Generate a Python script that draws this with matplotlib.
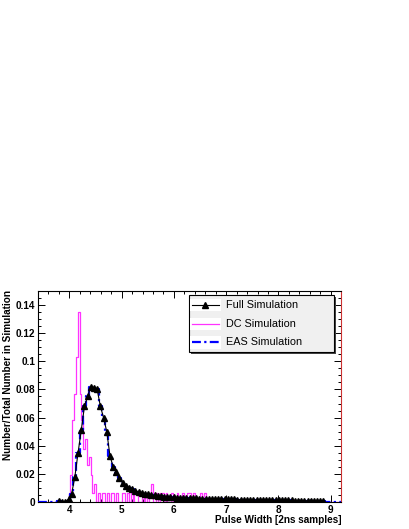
import matplotlib
matplotlib.use('Agg')
import numpy as np
import matplotlib.pyplot as plt
from matplotlib.patches import Rectangle
from matplotlib.lines import Line2D
from matplotlib.ticker import MultipleLocator, FuncFormatter

# full simulation: bin centres start at 3.80, width 0.061
full_start = 3.80
full_width = 0.061
full_vals = [
    0.0005, 0.0, 0.0003, 0.002, 0.006, 0.018, 0.035, 0.051, 0.068, 0.075,
    0.082, 0.081, 0.080, 0.068, 0.060, 0.050, 0.033, 0.025, 0.021, 0.017,
    0.0135, 0.0115, 0.0100, 0.0090, 0.0080, 0.0072, 0.0064, 0.0060, 0.0054, 0.0050,
    0.0047, 0.0044, 0.0041, 0.0039, 0.0037, 0.0034, 0.0033, 0.0031, 0.0030, 0.0029,
    0.0028, 0.0027, 0.0026, 0.0026, 0.0024, 0.0024, 0.0023, 0.0022, 0.0022, 0.0021,
    0.0020, 0.0020, 0.0019, 0.0019, 0.0018, 0.0018, 0.0017, 0.0017, 0.0016, 0.0016,
    0.0015, 0.0015, 0.0015, 0.0014, 0.0014, 0.0013, 0.0013, 0.0013, 0.0012, 0.0012,
    0.0012, 0.0011, 0.0011, 0.0011, 0.0010, 0.0010, 0.0010, 0.0010, 0.0009, 0.0009,
    0.0009, 0.0008, 0.0008, 0.0008,
]
# EAS simulation lies on top of the full simulation everywhere
eas_vals = list(full_vals)

# DC simulation: bins from 3.95, width 0.035
dc_start = 3.95
dc_width = 0.035
dc_vals = [
    0.0, 0.0064, 0.019, 0.058, 0.077, 0.103, 0.135, 0.077, 0.058, 0.038,
    0.045, 0.026, 0.032, 0.019, 0.0064, 0.013, 0.0, 0.0064, 0.0, 0.0064,
    0.0064, 0.0, 0.0064, 0.0, 0.0064, 0.0064, 0.0, 0.0064, 0.0, 0.0,
    0.0064, 0.0064, 0.0, 0.0064, 0.0, 0.0064, 0.0, 0.0064, 0.0064, 0.0,
    0.0, 0.0064, 0.0, 0.0064, 0.0, 0.0064, 0.0128, 0.0, 0.0, 0.0064,
    0.0, 0.0064, 0.0064, 0.0, 0.0064, 0.0, 0.0, 0.0064, 0.0, 0.0,
    0.0064, 0.0, 0.0, 0.0064, 0.0, 0.0, 0.0064, 0.0064, 0.0, 0.0064,
    0.0, 0.0, 0.0, 0.0064, 0.0, 0.0064,
]

legend_labels = ['Full Simulation', 'DC Simulation', 'EAS Simulation']

xmin, xmax = 3.4, 9.2
ymin, ymax = 0.0, 0.15

plt.rcParams['font.family'] = ['Liberation Sans', 'DejaVu Sans']

fig = plt.figure(figsize=(4.09, 5.29), dpi=100)
ax = fig.add_axes([0.093, 0.051, 0.741, 0.399])


def step_xy(start, width, vals):
    edges = start + width * np.arange(len(vals) + 1)
    xs = np.concatenate([[xmin], np.repeat(edges, 2), [xmax]])
    ys = np.concatenate([[0, 0], np.repeat(vals, 2), [0, 0]])
    return xs, ys


# DC histogram
xs, ys = step_xy(dc_start, dc_width, dc_vals)
ax.plot(xs, ys, color='#ff33ff', lw=0.9, zorder=2)

# EAS histogram (dash-dot blue)
xs, ys = step_xy(full_start - full_width / 2, full_width, eas_vals)
ax.plot(xs, ys, color='#0000ff', lw=1.6, ls=(0, (4, 1.5, 1, 1.5)), zorder=3)

# full simulation: line + triangles
fx = full_start + full_width * np.arange(len(full_vals))
ax.plot(fx, full_vals, color='black', lw=0.8, marker='^', ms=4.4,
        mec='black', mfc='black', zorder=4)

ax.set_xlim(xmin, xmax)
ax.set_ylim(ymin, ymax)

ax.xaxis.set_major_locator(MultipleLocator(1))
ax.xaxis.set_minor_locator(MultipleLocator(0.2))
ax.yaxis.set_major_locator(MultipleLocator(0.02))
ax.yaxis.set_minor_locator(MultipleLocator(0.005))
ax.yaxis.set_major_formatter(FuncFormatter(lambda v, p: '%g' % round(v, 3)))
ax.xaxis.set_major_formatter(FuncFormatter(lambda v, p: '%g' % v))

ax.tick_params(which='both', direction='in', top=True, right=True,
               labelsize=7.2, width=0.7)
ax.tick_params(which='major', length=5, pad=2)
ax.tick_params(which='minor', length=2.5)
for lab in ax.get_xticklabels() + ax.get_yticklabels():
    lab.set_fontweight('bold')
for s in ax.spines.values():
    s.set_linewidth(0.8)
ax.spines['right'].set_color('#cc3333')

# legend box drawn by hand (ROOT style with shadow)
tr = ax.transAxes
ax.add_patch(Rectangle((0.505, 0.700), 0.479, 0.270, transform=tr,
                       facecolor='#444444', edgecolor='none',
                       clip_on=False, zorder=9))
ax.add_patch(Rectangle((0.498, 0.711), 0.479, 0.270, transform=tr,
                       facecolor='#f0f0f0', edgecolor='black', lw=0.8,
                       clip_on=False, zorder=10))
row_y = [0.934, 0.843, 0.756]
for y in row_y:
    ax.add_patch(Rectangle((0.503, y - 0.03), 0.100, 0.06, transform=tr,
                           facecolor='white', edgecolor='none',
                           clip_on=False, zorder=11))
ax.add_line(Line2D([0.508, 0.597], [row_y[0]] * 2, transform=tr, color='black',
                   lw=0.8, clip_on=False, zorder=12))
ax.add_line(Line2D([0.5525], [row_y[0]], transform=tr, color='black', marker='^',
                   ms=4.4, ls='none', clip_on=False, zorder=12))
ax.add_line(Line2D([0.508, 0.597], [row_y[1]] * 2, transform=tr, color='#ff33ff',
                   lw=0.9, clip_on=False, zorder=12))
ax.add_line(Line2D([0.508, 0.597], [row_y[2]] * 2, transform=tr, color='#0000ff',
                   lw=1.6, ls=(0, (4, 1.5, 1, 1.5)), clip_on=False, zorder=12))
for y, lab in zip(row_y, legend_labels):
    ax.text(0.620, y, lab, transform=tr, fontsize=7.8, va='center', ha='left',
            zorder=12)

fig.text(0.020, 0.452, 'Number/Total Number in Simulation', rotation=90,
         ha='center', va='top', fontsize=7.2, fontweight='bold')
fig.text(0.834, 0.017, 'Pulse Width [2ns samples]', ha='right', va='center',
         fontsize=7.2, fontweight='bold')

fig.savefig('out.png', dpi=100)
